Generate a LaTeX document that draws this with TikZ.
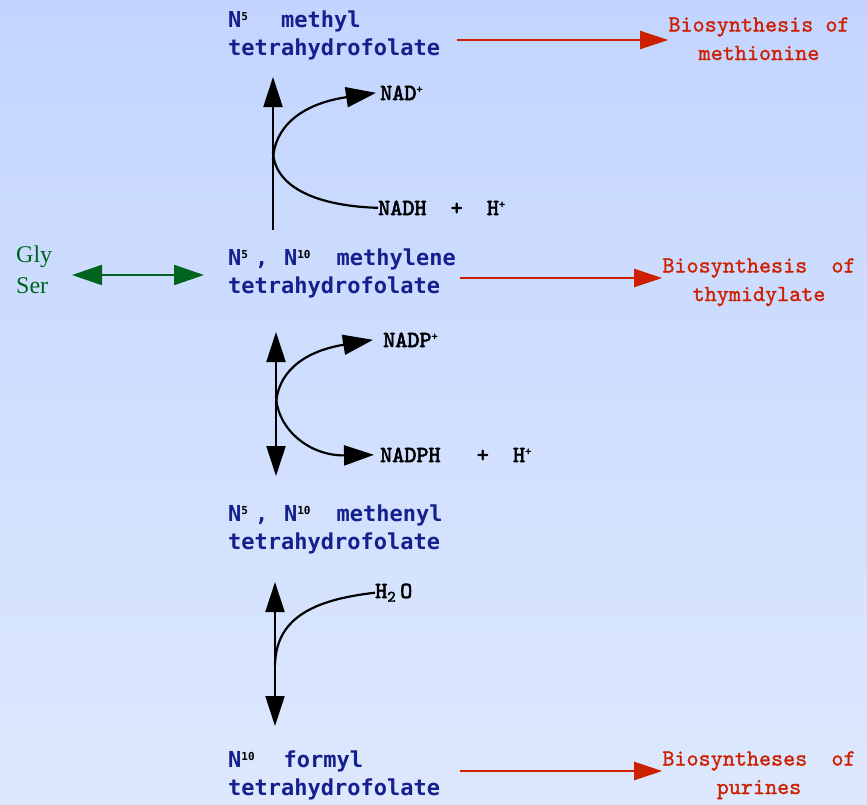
\documentclass[tikz,border=0pt]{standalone}
\usepackage{fontspec}
\usetikzlibrary{arrows.meta}
\setmainfont{Liberation Serif}
\newfontfamily\thffont{DejaVu Sans Mono}
\newfontfamily\destfont{lmmono10-regular.otf}[FakeBold=1.2]
\newfontfamily\cofont{lmmono10-regular.otf}[FakeBold=2.6]
\definecolor{bgtop}{RGB}{195,213,255}
\definecolor{bgbot}{RGB}{221,232,253}
\definecolor{thfblue}{RGB}{20,32,140}
\definecolor{destred}{RGB}{204,32,0}
\definecolor{aagreen}{RGB}{0,100,30}
\newcommand\supmark[1]{\raisebox{7pt}{\fontsize{11}{11}\selectfont\textcolor{black}{#1}}}
\newcommand\charge[1]{\raisebox{7pt}{\fontsize{12}{12}\selectfont #1}}
\begin{document}
\begin{tikzpicture}[x=1pt,y=-1pt,
  thf/.style={font=\thffont\bfseries\fontsize{22}{28}\selectfont, text=thfblue, align=left, inner sep=0pt, anchor=base west},
  dest/.style={font=\destfont\fontsize{23}{28.5}\selectfont, text=destred, align=center, inner sep=0pt, anchor=base},
  cof/.style={font=\cofont\fontsize{23}{28}\selectfont, inner sep=0pt, anchor=base west},
  aa/.style={font=\fontsize{24}{31}\selectfont, text=aagreen, align=left, inner sep=0pt, anchor=base west},
  toward/.style={draw=destred, line width=2pt, -{Triangle[length=28pt,width=18pt]}},
  interconv/.style={draw=black, line width=2.2pt, {Triangle[length=30pt,width=19pt]}-{Triangle[length=30pt,width=19pt]}},
  upward/.style={draw=black, line width=2.2pt, -{Triangle[length=30pt,width=19pt]}},
  side/.style={draw=black, line width=2.2pt},
  sidearrow/.style={side, -{Triangle[length=30pt,width=20pt]}},
  exchange/.style={draw=aagreen, line width=2.2pt, {Triangle[length=30pt,width=20pt]}-{Triangle[length=30pt,width=20pt]}}
]
% background
\shade[top color=bgtop, bottom color=bgbot] (0,0) rectangle (867,804);
\useasboundingbox (0,0) rectangle (867,804);

% folate derivatives (anchored on the baseline of the second line)
\node[thf] (methyl) at (228,55)
  {N\supmark{5}\hspace{33pt}methyl\\tetrahydrofolate};
\node[thf] (methylene) at (228,293)
  {N\supmark{5}\hspace{7pt},\hspace{15.8pt}N\supmark{10}\hspace{26pt}methylene\\tetrahydrofolate};
\node[thf] (methenyl) at (228,549)
  {N\supmark{5}\hspace{7pt},\hspace{15.8pt}N\supmark{10}\hspace{26pt}methenyl\\tetrahydrofolate};
\node[thf] (formyl) at (228,795)
  {N\supmark{10}\hspace{29pt}formyl\\tetrahydrofolate};

% biosynthetic destinations
\node[dest] (methionine) at (759,60) {Biosynthesis of\\methionine};
\node[dest] (thymidylate) at (759,301) {Biosynthesis\ \ of\\thymidylate};
\node[dest] (purines) at (759,794) {Biosyntheses\ \ of\\purines};

% cofactors
\node[cof] (nad) at (380,100) {NAD\charge{+}};
\node[cof] (nadh) at (378,215) {NADH\ \ +\ \ H\charge{+}};
\node[cof] (nadp) at (383,347) {NADP\charge{+}};
\node[cof] (nadph) at (380,462) {NADPH\ \ \ +\ \ H\charge{+}};
\node[cof] (water) at (375,598) {H\textsubscript{2}\hspace{4pt}O};

% amino acids
\node[aa] (glyser) at (16,293) {Gly\\Ser};

% connector end points
\coordinate (gsL) at (72,275);
\coordinate (gsR) at (204,275);
\coordinate (r1) at (457,40);
\coordinate (r2) at (460,278);
\coordinate (r3) at (460,771);
\coordinate (v1b) at (273,230);
\coordinate (v1t) at (273,77);
\coordinate (v2t) at (276,332);
\coordinate (v2b) at (276,476);
\coordinate (v3t) at (275,582);
\coordinate (v3b) at (275,726);

% serine / glycine exchange
\draw[exchange] (gsL) -- (gsR);

% routes to biosyntheses
\draw[toward] (r1) -- (r1 -| methionine.west);
\draw[toward] (r2) -- (r2 -| thymidylate.west);
\draw[toward] (r3) -- (r3 -| purines.west);

% reductions and hydration
\draw[upward] (v1b) -- (v1t);
\draw[sidearrow] (273,160) .. controls (274,128) and (300,104) .. ([xshift=-4pt]nad.west);
\draw[side] (273,152) .. controls (275,188) and (318,206) .. (nadh.west);

\draw[interconv] (v2t) -- (v2b);
\draw[sidearrow] (276,405) .. controls (277,375) and (300,352) .. ([xshift=-10pt]nadp.west);
\draw[sidearrow] (276,397) .. controls (278,430) and (310,456) .. ([xshift=-6pt]nadph.west);

\draw[interconv] (v3t) -- (v3b);
\draw[side] (275,665) .. controls (276,620) and (310,600) .. (water.west);
\end{tikzpicture}
\end{document}
